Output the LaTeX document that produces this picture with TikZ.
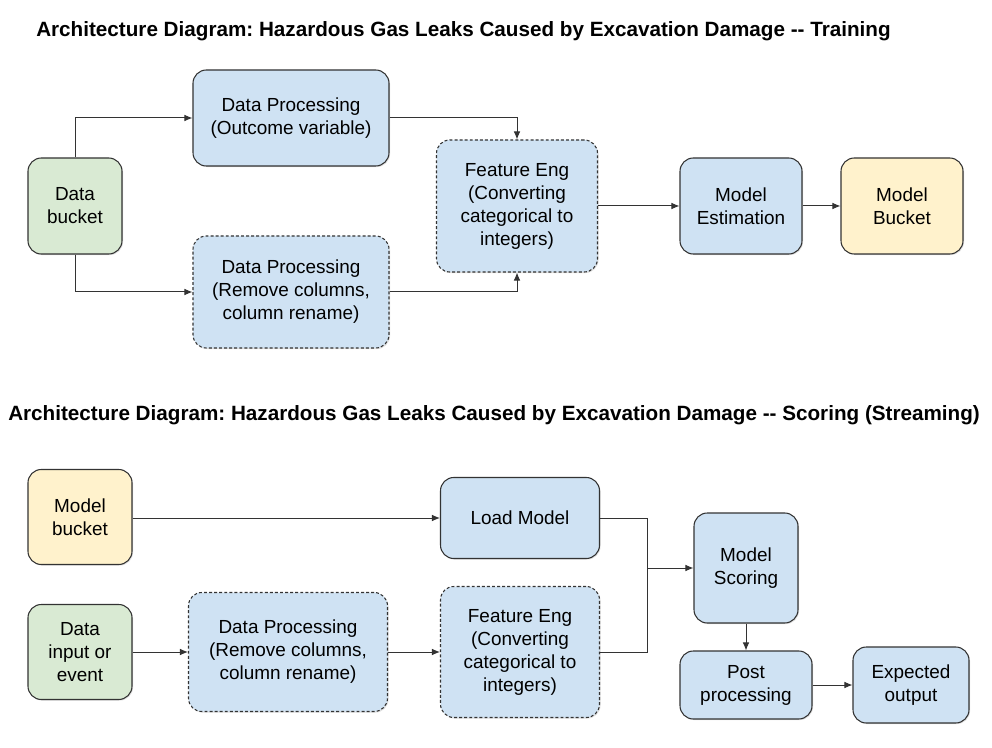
\documentclass[tikz,border=0pt]{standalone}
\usepackage{fontspec}
\setmainfont{Liberation Sans}
\usetikzlibrary{arrows.meta,shadows}
\definecolor{bluefill}{HTML}{CFE2F3}
\definecolor{greenfill}{HTML}{D9EAD3}
\definecolor{yellowfill}{HTML}{FFF2CC}
\definecolor{edgecol}{HTML}{333333}
\frenchspacing
\begin{document}
\begin{tikzpicture}[x=0.75pt,y=-0.75pt,
  box/.style={draw=edgecol, line width=0.8pt, rounded corners=10pt, align=center,
    font=\fontsize{14.2}{17.25}\selectfont, inner sep=2pt,
    drop shadow={shadow xshift=0.8pt, shadow yshift=-0.8pt, opacity=0.25}},
  bluebox/.style={box, fill=bluefill},
  greenbox/.style={box, fill=greenfill},
  yellowbox/.style={box, fill=yellowfill},
  dashbox/.style={bluebox, dash pattern=on 2.2pt off 1.6pt},
  conn/.style={draw=edgecol, line width=0.75pt, -{Latex[length=6pt,width=5pt]}},
  plain/.style={draw=edgecol, line width=0.75pt},
  title/.style={font=\fontsize{15.5}{18}\selectfont\bfseries, anchor=base west, inner sep=0pt}
]
\useasboundingbox (0,0) rectangle (992,748);
\fill[white] (0,0) rectangle (992,748);

% titles
\node[title] (t1) at (36,37) {Architecture Diagram: Hazardous Gas Leaks Caused by Excavation Damage {-}{-} Training};
\node[title] (t2) at (8,420) {Architecture Diagram: Hazardous Gas Leaks Caused by Excavation Damage {-}{-} Scoring (Streaming)};

% top diagram
\node[greenbox, minimum width=70.5pt, minimum height=72pt] (db) at (75,206) {Data\\bucket};
\node[bluebox, minimum width=147pt, minimum height=72pt] (dpo) at (291,118) {Data Processing\\(Outcome variable)};
\node[dashbox, minimum width=147pt, minimum height=84pt] (dpr) at (291,292) {Data Processing\\(Remove columns,\\column rename)};
\node[dashbox, minimum width=120.75pt, minimum height=99pt] (fe) at (517,206) {Feature Eng\\(Converting\\categorical to\\integers)};
\node[bluebox, minimum width=91.5pt, minimum height=72pt] (me) at (741,206) {Model\\Estimation};
\node[yellowbox, minimum width=91.5pt, minimum height=72pt] (mb) at (902,206) {Model\\Bucket};

\draw[conn] (db.north) |- (dpo.west);
\draw[conn] (db.south) |- (dpr.west);
\draw[conn] (dpo.east) -| (fe.north);
\draw[conn] (dpr.east) -| (fe.south);
\draw[conn] (fe.east) -- (me.west);
\draw[conn] (me.east) -- (mb.west);

% bottom diagram
\node[yellowbox, minimum width=78pt, minimum height=71.25pt] (mbk) at (80,517) {Model\\bucket};
\node[greenbox, minimum width=78pt, minimum height=71.25pt] (di) at (80,652) {Data\\input or\\event};
\node[dashbox, minimum width=149.25pt, minimum height=89.25pt] (dpr2) at (288,652) {Data Processing\\(Remove columns,\\column rename)};
\node[bluebox, minimum width=119.25pt, minimum height=60.75pt] (lm) at (520,518) {Load Model};
\node[dashbox, minimum width=119.25pt, minimum height=98.25pt] (fe2) at (520,652) {Feature Eng\\(Converting\\categorical to\\integers)};
\node[bluebox, minimum width=78pt, minimum height=82.5pt] (ms) at (746,568) {Model\\Scoring};
\node[bluebox, minimum width=99pt, minimum height=51pt] (pp) at (746,685) {Post\\processing};
\node[bluebox, minimum width=87pt, minimum height=57pt] (eo) at (911,685) {Expected\\output};

\coordinate (jn) at (647,568);
\draw[conn] (mbk.east |- lm.west) -- (lm.west);
\draw[conn] (di.east) -- (dpr2.west);
\draw[conn] (dpr2.east) -- (fe2.west);
\draw[plain] (lm.east) -| (jn);
\draw[plain] (fe2.east) -| (jn);
\draw[conn] (jn) -- (ms.west);
\draw[conn] (ms.south) -- (pp.north);
\draw[conn] (pp.east) -- (eo.west);
\end{tikzpicture}
\end{document}
